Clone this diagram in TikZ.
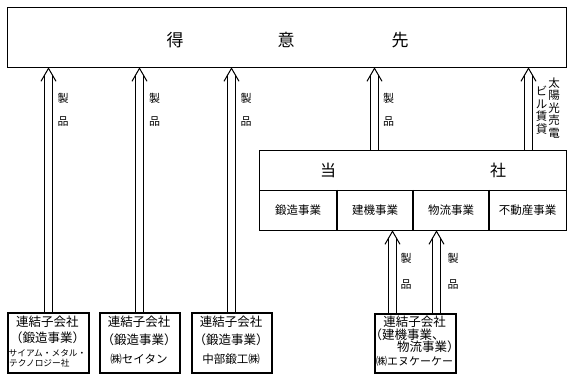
\documentclass[tikz,border=0pt]{standalone}
\usepackage{fontspec}
\setmainfont{Noto Sans CJK JP}
\usetikzlibrary{calc}
\newcommand\chevtip[1]{\draw[chev] ($(#1)+(-7.5,13)$) -- (#1) -- ($(#1)+(7.5,13)$);}
\begin{document}
\begin{tikzpicture}[x=1pt,y=-1pt,
  boxa/.style={draw, line width=1.3pt, inner sep=0pt, anchor=north west},
  boxb/.style={draw, line width=1.6pt, inner sep=0pt, anchor=north west, minimum height=60pt},
  dbl/.style={double, double distance=7pt, line width=1pt, shorten >=6.5pt},
  chev/.style={line width=1pt},
  big/.style={inner sep=0pt, font=\fontsize{17}{20}\selectfont},
  mid/.style={inner sep=0pt, font=\fontsize{16}{19}\selectfont},
  cell/.style={inner sep=0pt, font=\fontsize{11.5}{13}\selectfont},
  lab/.style={inner sep=0pt, font=\fontsize{11}{13}\selectfont},
  vlab/.style={inner sep=0pt, align=center, font=\fontsize{11.5}{12.5}\selectfont},
  btxt/.style={inner sep=0pt, font=\fontsize{12.5}{14}\selectfont},
  ctxt/.style={inner sep=0pt, font=\fontsize{11.5}{14}\selectfont},
  stxt/.style={inner sep=0pt, font=\fontsize{8.7}{10}\selectfont}]
\useasboundingbox (0,0) rectangle (573,379);

% top box
\node[boxa, minimum width=559pt, minimum height=60pt] (tokui) at (7,7) {};
\node[big] (tk1) at (175,40) {得};
\node[big] (tk2) at (286,40) {意};
\node[big] (tk3) at (400,40) {先};

% company box
\node[boxa, minimum width=307pt, minimum height=80pt] (tosha) at (259,150) {};
\draw[line width=1.3pt] (tosha.west) -- (tosha.east);
\draw[line width=1.3pt] (337,190) -- (337,230);
\draw[line width=1.3pt] (413,190) -- (413,230);
\draw[line width=1.3pt] (489,190) -- (489,230);
\node[mid] (ts1) at (328,170) {当};
\node[mid] (ts2) at (498,170) {社};
\node[cell] (d1) at (298,210) {鍛造事業};
\node[cell] (d2) at (375,210) {建機事業};
\node[cell] (d3) at (451,210) {物流事業};
\node[cell] (d4) at (527.5,210) {不動産事業};

% subsidiaries
\node[boxb, minimum width=81pt] (c1) at (7,312) {};
\node[btxt] (c1a) at (47.5,322) {連結子会社};
\node[btxt] (c1b) at (47.5,338) {（鍛造事業）};
\node[stxt] (c1c) at (47.5,353) {サイアム・メタル・};
\node[stxt, anchor=west] (c1d) at (9,363.5) {テクノロジー社};

\node[boxb, minimum width=80pt] (c2) at (99,312) {};
\node[btxt] (c2a) at (139,322) {連結子会社};
\node[btxt] (c2b) at (139,340) {（鍛造事業）};
\node[ctxt] (c2c) at (139,359) {㈱セイタン};

\node[boxb, minimum width=80pt] (c3) at (191,312) {};
\node[btxt] (c3a) at (231,322) {連結子会社};
\node[btxt] (c3b) at (231,340) {（鍛造事業）};
\node[ctxt] (c3c) at (231,359) {中部鍛工㈱};

\node[boxb, minimum width=81pt, minimum height=59pt] (c4) at (374,313) {};
\node[btxt] (c4a) at (414.5,322) {連結子会社};
\node[btxt] (c4b) at (407,335) {（建機事業、};
\node[btxt, anchor=west] (c4c) at (397,347) {物流事業）};
\node[ctxt, font=\fontsize{11}{13}\selectfont] (c4d) at (414.5,361) {㈱エヌケーケー};

% arrow columns
\coordinate (xa) at (48.5,0);
\coordinate (xb) at (139.5,0);
\coordinate (xc) at (231.5,0);
\coordinate (xd) at (374.5,0);
\coordinate (xe) at (528.5,0);
\coordinate (xf) at (392.5,0);
\coordinate (xg) at (436.5,0);

\coordinate (tipa) at (tokui.south -| xa);
\coordinate (tipb) at (tokui.south -| xb);
\coordinate (tipc) at (tokui.south -| xc);
\coordinate (tipd) at (tokui.south -| xd);
\coordinate (tipe) at (tokui.south -| xe);
\coordinate (tipf) at (tosha.south -| xf);
\coordinate (tipg) at (tosha.south -| xg);

\draw[dbl] (c1.north -| xa) -- (tipa); \chevtip{tipa}
\draw[dbl] (c2.north -| xb) -- (tipb); \chevtip{tipb}
\draw[dbl] (c3.north -| xc) -- (tipc); \chevtip{tipc}
\draw[dbl] (tosha.north -| xd) -- (tipd); \chevtip{tipd}
\draw[dbl] (tosha.north -| xe) -- (tipe); \chevtip{tipe}
\draw[dbl] (c4.north -| xf) -- (tipf); \chevtip{tipf}
\draw[dbl] (c4.north -| xg) -- (tipg); \chevtip{tipg}

% labels
\node[lab] (la1) at (63,98) {製};
\node[lab] (la2) at (63,122) {品};
\node[lab] (lb1) at (154.5,98) {製};
\node[lab] (lb2) at (154.5,122) {品};
\node[lab] (lc1) at (246,98) {製};
\node[lab] (lc2) at (246,122) {品};
\node[lab] (ld1) at (388.5,98) {製};
\node[lab] (ld2) at (388.5,122) {品};
\node[lab] (lf1) at (406,258) {製};
\node[lab] (lf2) at (406,285) {品};
\node[lab] (lg1) at (453,258) {製};
\node[lab] (lg2) at (453,285) {品};
\node[vlab] (le1) at (554,108) {太\\陽\\光\\売\\電};
\node[vlab] (le2) at (541.5,110) {ビ\\ル\\賃\\貸};
\end{tikzpicture}
\end{document}
